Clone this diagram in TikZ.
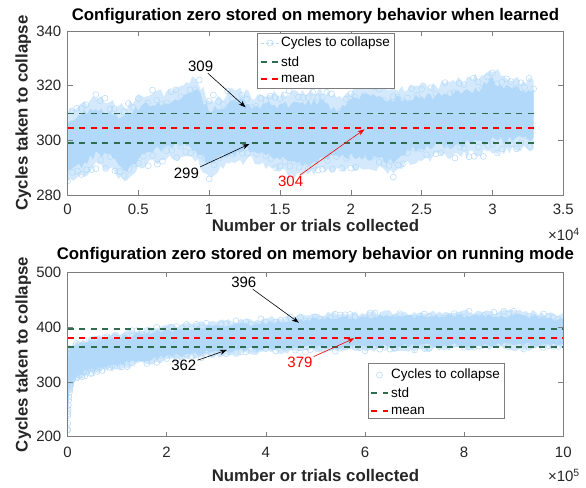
\documentclass[tikz,border=0pt]{standalone}
\usepackage{fontspec}
\setmainfont{Liberation Sans}
\usetikzlibrary{arrows.meta}

\definecolor{datablue}{RGB}{179,217,250}
\definecolor{datafringe}{RGB}{212,234,252}
\definecolor{stdgreen}{RGB}{46,110,78}
\definecolor{axisgray}{RGB}{125,125,125}
\definecolor{labelgray}{RGB}{38,38,38}

\newcommand\fs[1]{\fontsize{#1}{#1}\selectfont}

% Closed band between an upper edge and a (reversed) lower edge.
% Each edge segment is refined with the points in \tlist and jittered.
% #1 style, #2 upper list, #3 x start, #4 upper value at start,
% #5 reversed lower list, #6 x end, #7 lower value at end, #8 inset, #9 jitter
\newcommand\bandfill[9]{%
  \fill[#1] (#3,{#4-#8})
    \foreach \xx/\yy [remember=\xx as \xq (initially #3), remember=\yy as \yq (initially #4)] in #2
      {\foreach \fr in \tlist {-- ({\xq+\fr*(\xx-\xq)},{\yq+\fr*(\yy-\yq)-#8+#9*rand})}}
    -- (#6,{#7+#8})
    \foreach \xx/\yy [remember=\xx as \xq (initially #6), remember=\yy as \yq (initially #7)] in #5
      {\foreach \fr in \tlist {-- ({\xq+\fr*(\xx-\xq)},{\yq+\fr*(\yy-\yq)+#8+#9*rand})}}
    -- cycle;}

% Open circle markers scattered along one edge of a band.
% #1 list, #2 x start, #3 value at start, #4 inward sign, #5 depth
\newcommand\edgemarks[5]{%
  \foreach \xx/\yy [remember=\xx as \xq (initially #2), remember=\yy as \yq (initially #3)] in #1
    {\foreach \fr in \mlist
      {\draw[datamark] ({\xq+\fr*(\xx-\xq)},{\yq+\fr*(\yy-\yq)+(#4)*(#5*rnd-1.5)}) circle[radius=3pt];}}}

\tikzset{
  axisframe/.style={draw=axisgray, line width=0.7pt},
  tickmark/.style={draw=axisgray, line width=0.6pt},
  ticklab/.style={font=\fs{15}, text=labelgray, inner sep=0pt},
  titlestyle/.style={font=\bfseries\fs{16.8}, text=black, inner sep=0pt},
  labstyle/.style={font=\bfseries\fs{16.8}, text=labelgray, inner sep=0pt},
  stdline/.style={stdgreen, line width=1.9pt, dash pattern=on 6pt off 5.5pt},
  meanline/.style={red, line width=1.9pt, dash pattern=on 6pt off 5.5pt},
  datamark/.style={draw=datablue, line width=0.5pt},
  datasample/.style={datablue, line width=0.6pt, dash pattern=on 3pt off 2pt},
  legframe/.style={draw=axisgray, fill=white, line width=0.7pt, inner sep=0pt},
  legtext/.style={font=\fs{13.5}, text=black, inner sep=0pt, anchor=west},
  annlab/.style={font=\fs{15}, inner sep=1pt},
  annarrow/.style={-{Stealth[length=7pt,width=5pt]}, line width=0.6pt},
}

% edges of the upper data cloud (x in units of 10^4)
\def\topupper{0.1/313,0.2/316,0.3/314,0.4/312,0.5/316,0.6/317,0.7/317,0.8/319,0.9/323,1.0/315,1.1/316,1.2/319,1.3/316,1.4/317,1.5/317,1.6/317,1.7/318,1.8/318,1.9/315,2.0/318,2.1/321,2.2/320,2.3/319,2.4/319,2.5/320,2.6/320,2.7/321,2.8/322,2.9/323,3.0/326,3.1/323,3.2/322,3.29/322}
\def\toplower{3.2/297,3.1/296,3.0/296,2.9/295,2.8/295,2.7/294,2.6/294,2.5/293,2.4/292,2.3/288,2.2/289,2.1/290,2.0/290,1.9/290,1.8/289,1.7/288,1.6/287,1.5/289,1.4/291,1.3/293,1.2/292,1.1/290,1.0/287,0.9/293,0.8/294,0.7/293,0.6/292,0.5/289,0.4/285,0.3/290,0.2/291,0.1/287,0/284}

% edges of the lower data cloud (x in units of 10^5)
\def\botupper{0.03/360,0.1/367,0.2/371,0.35/376,0.5/380,0.75/384,1/388,1.5/395,2/401,2.5/405,3/409,3.5/412,4/415,4.5/419,5/423,5.5/425,6/425,6.5/426,7/426,7.5/427,8/428,8.5/427,9/428,9.5/426,10/420}
\def\botlower{9.5/362,9/361,8.5/361,8/360,7.5/360,7/359,6.5/359,6/358,5.5/357,5/356,4.5/355,4/353,3.5/351,3/348,2.5/344,2/339,1.5/333,1/325,0.75/321,0.5/316,0.35/312,0.2/307,0.1/300,0.06/292,0.03/275,0.01/240,0/205}

\begin{document}
\begin{tikzpicture}[x=1pt, y=1pt]
\useasboundingbox (0,0) rectangle (586,487);
\pgfmathsetseed{4242}

% ---------------- upper panel ----------------
\begin{scope}[shift={(67.5,292)}, x=141.66pt, y=2.7333pt, shift={(0,-280)}]
  \begin{scope}
    \clip (0,280) rectangle (3.5,340);
    \def\tlist{0.2,0.4,0.6,0.8,1}
    \bandfill{datafringe}{\topupper}{0}{310}{\toplower}{3.29}{297}{0}{1.6}
    \bandfill{datablue}{\topupper}{0}{310}{\toplower}{3.29}{297}{4}{1.4}
    \def\mlist{0.3,0.65,1}
    \edgemarks{\topupper}{0}{310}{-1}{7}
    \edgemarks{\toplower}{3.29}{297}{1}{7}
  \end{scope}
  \draw[stdline]  (0,309.8) -- (3.29,309.8);
  \draw[meanline] (0,304.4) -- (3.29,304.4);
  \draw[stdline]  (0,299.0) -- (3.29,299.0);
  \draw[axisframe] (0,280) rectangle (3.5,340);
  \foreach \tx [count=\i] in {0,0.5,1,1.5,2,2.5,3,3.5} {
    \draw[tickmark] (\tx,280) -- ++(0pt,5pt);
    \draw[tickmark] (\tx,340) -- ++(0pt,-5pt);
    \node[ticklab, anchor=base, yshift=-20pt] (ax1x\i) at (\tx,280) {\tx};
  }
  \foreach \ty [count=\i] in {280,300,320,340} {
    \draw[tickmark] (0,\ty) -- ++(5pt,0pt);
    \draw[tickmark] (3.5,\ty) -- ++(-5pt,0pt);
    \node[ticklab, anchor=east, xshift=-6pt] (ax1y\i) at (0,\ty) {\ty};
  }
\end{scope}

\node[titlestyle, anchor=base] (title1) at (315.4,466.5) {Configuration zero stored on memory behavior when learned};
\node[labstyle, anchor=base] (xlab1) at (315.4,255) {Number or trials collected};
\node[labstyle, anchor=base, rotate=90] (ylab1) at (27.7,374) {Cycles taken to collapse};
\node[ticklab, anchor=base east] (exp1) at (580,246) {×10\textsuperscript{4}};

% legend of the upper panel
\node[legframe, minimum width=137pt, minimum height=55pt] (leg1) at (325.5,426.5) {};
\draw[datasample] (260.6,444) -- (279.4,444);
\draw[datamark] (270,444) circle[radius=3pt];
\node[legtext] (leg1a) at (281,444) {Cycles to collapse};
\draw[stdline] (260.6,425) -- (279.4,425);
\node[legtext] (leg1b) at (281,425) {std};
\draw[meanline] (260.6,408) -- (279.4,408);
\node[legtext] (leg1c) at (281,408) {mean};

% value callouts of the upper panel
\node[annlab] (l309) at (200.6,420.3) {309};
\coordinate (t309) at (245.6,379.7);
\draw[annarrow] (l309) -- (t309);
\node[annlab] (l299) at (186.4,313.7) {299};
\coordinate (t299) at (249.4,343);
\draw[annarrow] (l299) -- (t299);
\node[annlab, text=red] (l304) at (290.6,305.3) {304};
\coordinate (t304) at (364.5,357.7);
\draw[annarrow, red] (l304) -- (t304);

% ---------------- lower panel ----------------
\begin{scope}[shift={(67.5,50.3)}, x=49.58pt, y=0.548pt, shift={(0,-200)}]
  \begin{scope}
    \clip (0,200) rectangle (10,500);
    \def\tlist{0.125,0.25,0.375,0.5,0.625,0.75,0.875,1}
    \bandfill{datafringe}{\botupper}{0}{345}{\botlower}{10}{362}{0}{5}
    \bandfill{datablue}{\botupper}{0}{345}{\botlower}{10}{362}{7}{4}
    \def\mlist{0.2,0.4,0.6,0.8,1}
    \edgemarks{\botupper}{0}{345}{-1}{14}
    \edgemarks{\botlower}{10}{362}{1}{14}
  \end{scope}
  \draw[stdline]  (0,397) -- (10,397);
  \draw[meanline] (0,380) -- (10,380);
  \draw[stdline]  (0,363.5) -- (10,363.5);
  \draw[axisframe] (0,200) rectangle (10,500);
  \foreach \tx [count=\i] in {0,2,4,6,8,10} {
    \draw[tickmark] (\tx,200) -- ++(0pt,5pt);
    \draw[tickmark] (\tx,500) -- ++(0pt,-5pt);
    \node[ticklab, anchor=base, yshift=-21pt] (ax2x\i) at (\tx,200) {\tx};
  }
  \foreach \ty [count=\i] in {200,300,400,500} {
    \draw[tickmark] (0,\ty) -- ++(5pt,0pt);
    \draw[tickmark] (10,\ty) -- ++(-5pt,0pt);
    \node[ticklab, anchor=east, xshift=-6pt] (ax2y\i) at (0,\ty) {\ty};
  }
\end{scope}

\node[titlestyle, anchor=base] (title2) at (315.4,227) {Configuration zero stored on memory behavior on running mode};
\node[labstyle, anchor=base] (xlab2) at (315.4,5.5) {Number or trials collected};
\node[labstyle, anchor=base, rotate=90] (ylab2) at (27.7,132.5) {Cycles taken to collapse};
\node[ticklab, anchor=base east] (exp2) at (580,5.5) {×10\textsuperscript{5}};

% legend of the lower panel
\node[legframe, minimum width=136pt, minimum height=55pt] (leg2) at (436.5,96.5) {};
\draw[datamark] (379.5,112) circle[radius=3pt];
\node[legtext] (leg2a) at (391,112) {Cycles to collapse};
\draw[stdline] (371,94) -- (388,94);
\node[legtext] (leg2b) at (391,94) {std};
\draw[meanline] (371,76) -- (388,76);
\node[legtext] (leg2c) at (391,76) {mean};

% value callouts of the lower panel
\node[annlab] (l396) at (243.8,204.3) {396};
\coordinate (t396) at (298.9,164.3);
\draw[annarrow] (l396) -- (t396);
\node[annlab] (l362) at (183.8,122) {362};
\coordinate (t362) at (226.9,137);
\draw[annarrow] (l362) -- (t362);
\node[annlab, text=red] (l379) at (300,124.3) {379};
\coordinate (t379) at (354.4,148.7);
\draw[annarrow, red] (l379) -- (t379);
\end{tikzpicture}
\end{document}
